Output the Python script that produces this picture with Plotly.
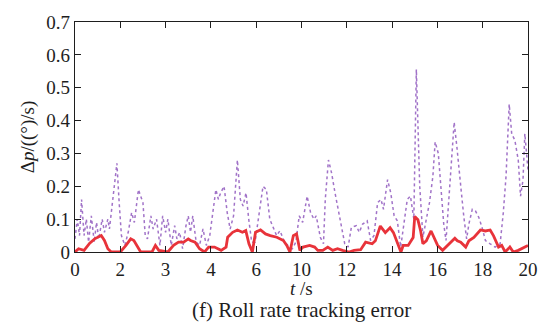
import plotly.graph_objects as go

# Purple dotted series (time s, error)
t_purple = [0.0, 0.1, 0.2, 0.29, 0.4, 0.5, 0.6, 0.72, 0.85, 0.95, 1.05, 1.2, 1.3, 1.45, 1.52, 1.6, 1.72, 1.85, 1.95, 2.05,
            2.2, 2.35, 2.5, 2.62, 2.8, 2.9, 3.0, 3.1, 3.2, 3.35, 3.45, 3.6, 3.75, 3.87, 4.0, 4.1, 4.25, 4.4, 4.5, 4.62,
            4.75, 4.9, 5.0, 5.1, 5.2, 5.35, 5.5, 5.65, 5.8, 5.95, 6.1, 6.22, 6.33, 6.43, 6.58, 6.72, 6.85, 7.0, 7.17, 7.3,
            7.42, 7.55, 7.67, 7.8, 7.95, 8.1, 8.3, 8.45, 8.6, 8.75, 8.9, 9.05, 9.25, 9.4, 9.6, 9.75, 9.9, 10.05, 10.25, 10.4,
            10.55, 10.65, 10.83, 10.97, 11.05, 11.19, 11.33, 11.48, 11.62, 11.77, 11.91, 12.06, 12.2, 12.42, 12.55, 12.7, 12.9, 13.05, 13.2, 13.36,
            13.51, 13.62, 13.8, 13.94, 14.09, 14.23, 14.38, 14.52, 14.67, 14.81, 14.96, 15.07, 15.14, 15.22, 15.36, 15.51, 15.65, 15.8, 15.9, 16.04,
            16.16, 16.28, 16.38, 16.52, 16.62, 16.74, 16.86, 16.96, 17.06, 17.17, 17.29, 17.39, 17.54, 17.68, 17.83, 17.97, 18.12, 18.33, 18.55, 18.77,
            18.91, 19.03, 19.17, 19.28, 19.42, 19.57, 19.67, 19.78, 19.86, 20.0]
v_purple = [0.04, 0.1, 0.05, 0.16, 0.05, 0.1, 0.03, 0.11, 0.03, 0.09, 0.04, 0.1, 0.06, 0.1, 0.07, 0.12, 0.2, 0.27, 0.15, 0.05,
            0.02, 0.06, 0.12, 0.09, 0.19, 0.17, 0.15, 0.05, 0.04, 0.11, 0.07, 0.1, 0.02, 0.11, 0.06, 0.1, 0.02, 0.08, 0.04, 0.06,
            0.01, 0.08, 0.11, 0.06, 0.11, 0.03, 0.02, 0.07, 0.02, 0.05, 0.12, 0.19, 0.16, 0.18, 0.2, 0.12, 0.07, 0.11, 0.28, 0.16,
            0.14, 0.18, 0.1, 0.03, 0.03, 0.11, 0.2, 0.19, 0.1, 0.075, 0.05, 0.065, 0.03, 0.02, 0.01, 0.03, 0.11, 0.09, 0.17, 0.12,
            0.1, 0.11, 0.045, 0.025, 0.16, 0.28, 0.24, 0.18, 0.13, 0.07, 0.025, 0.015, 0.075, 0.08, 0.06, 0.085, 0.095, 0.035, 0.05, 0.15,
            0.16, 0.13, 0.22, 0.18, 0.11, 0.095, 0.015, 0.085, 0.16, 0.17, 0.1, 0.556, 0.4, 0.2, 0.045, 0.095, 0.15, 0.23, 0.335, 0.3,
            0.2, 0.085, 0.035, 0.17, 0.28, 0.395, 0.32, 0.26, 0.18, 0.105, 0.04, 0.085, 0.13, 0.125, 0.105, 0.075, 0.035, 0.025, 0.015, 0.025,
            0.12, 0.23, 0.45, 0.36, 0.34, 0.28, 0.17, 0.22, 0.36, 0.25]

# Red solid series
t_red = [0.0, 0.16, 0.4, 0.65, 0.87, 1.0, 1.16, 1.3, 1.45, 1.6, 2.0, 2.25, 2.46, 2.6, 2.75, 2.9, 3.4, 3.55, 3.7, 4.1,
         4.35, 4.57, 4.8, 5.0, 5.1, 5.3, 5.5, 5.72, 5.9, 6.16, 6.45, 6.67, 6.74, 6.96, 7.17, 7.39, 7.54, 7.68, 7.83, 7.97,
         8.19, 8.41, 8.62, 8.91, 9.2, 9.35, 9.49, 9.64, 9.78, 9.93, 10.07, 10.36, 10.58, 10.72, 10.94, 11.16, 11.38, 11.59, 11.81, 12.1,
         12.32, 12.61, 12.83, 13.12, 13.26, 13.48, 13.7, 13.91, 14.06, 14.27, 14.39, 14.49, 14.71, 14.93, 15.0, 15.14, 15.26, 15.36, 15.51, 15.72,
         15.87, 16.01, 16.23, 16.45, 16.59, 16.77, 16.88, 17.03, 17.25, 17.39, 17.61, 17.9, 18.12, 18.33, 18.48, 18.7, 18.84, 18.99, 19.2, 19.35,
         19.57, 19.86, 20.0]
v_red = [0.0, 0.01, 0.005, 0.027, 0.04, 0.045, 0.05, 0.035, 0.01, 0.0, 0.0, 0.02, 0.04, 0.035, 0.015, 0.0, 0.0, 0.02, 0.005, 0.0,
         0.02, 0.03, 0.03, 0.04, 0.035, 0.03, 0.01, 0.0, 0.015, 0.015, 0.005, 0.015, 0.045, 0.06, 0.067, 0.06, 0.065, 0.025, 0.0, 0.06,
         0.067, 0.055, 0.05, 0.045, 0.035, 0.02, 0.0, 0.05, 0.055, 0.005, 0.015, 0.02, 0.015, 0.005, 0.005, 0.015, 0.005, 0.01, 0.005, 0.0,
         0.005, 0.007, 0.03, 0.025, 0.034, 0.079, 0.059, 0.074, 0.059, 0.025, 0.0, 0.02, 0.02, 0.044, 0.108, 0.098, 0.064, 0.025, 0.034, 0.064,
         0.039, 0.02, 0.005, 0.02, 0.03, 0.042, 0.034, 0.03, 0.015, 0.034, 0.044, 0.067, 0.064, 0.067, 0.049, 0.015, 0.02, 0.0, 0.015, 0.0,
         0.005, 0.015, 0.02]

x_tickvals = [0, 2, 4, 6, 8, 10, 12, 14, 16, 18, 20]
x_ticktext = ["0", "2", "3", "4", "6", "10", "12", "14", "16", "18", "20"]
y_tickvals = [0, 0.1, 0.2, 0.3, 0.4, 0.5, 0.6, 0.7]
y_ticktext = ["0", "0.1", "0.2", "0.3", "0.4", "0.5", "0.6", "0.7"]

FONT = "Liberation Serif, Times New Roman, serif"
INK = "#1e1e1e"

fig = go.Figure()
fig.add_trace(go.Scatter(x=t_purple, y=v_purple, mode="lines",
                         line=dict(color="rgba(145,90,190,0.85)", width=1.5, dash="dot"),
                         showlegend=False, hoverinfo="skip"))
fig.add_trace(go.Scatter(x=t_red, y=v_red, mode="lines",
                         line=dict(color="#e8333a", width=2.8),
                         showlegend=False, hoverinfo="skip"))

axis_common = dict(showline=True, linecolor=INK, linewidth=1.3, mirror="ticks",
                   ticks="inside", ticklen=6, tickwidth=1.2, tickcolor=INK,
                   showgrid=False, zeroline=False,
                   tickfont=dict(family=FONT, size=19, color=INK))

fig.update_xaxes(range=[0, 20], tickmode="array", tickvals=x_tickvals, ticktext=x_ticktext,
                 **axis_common)
fig.update_yaxes(range=[0, 0.7], tickmode="array", tickvals=y_tickvals, ticktext=y_ticktext,
                 title=dict(text="Δ<i>p</i>/((°)/s)", font=dict(family=FONT, size=19, color=INK), standoff=6),
                 **axis_common)

fig.add_annotation(text="<i>t</i> /s", xref="paper", yref="paper",
                   x=0.5, y=-0.158, xanchor="center", yanchor="middle", showarrow=False,
                   font=dict(family=FONT, size=19, color=INK))
fig.add_annotation(text="(f) Roll rate tracking error", xref="paper", yref="paper",
                   x=0.5, y=-0.25, xanchor="center", yanchor="middle", showarrow=False,
                   font=dict(family=FONT, size=21, color=INK))

fig.update_layout(width=550, height=329, margin=dict(l=75, r=15, t=15, b=77),
                  paper_bgcolor="white", plot_bgcolor="white")

fig.write_html("out.html")
